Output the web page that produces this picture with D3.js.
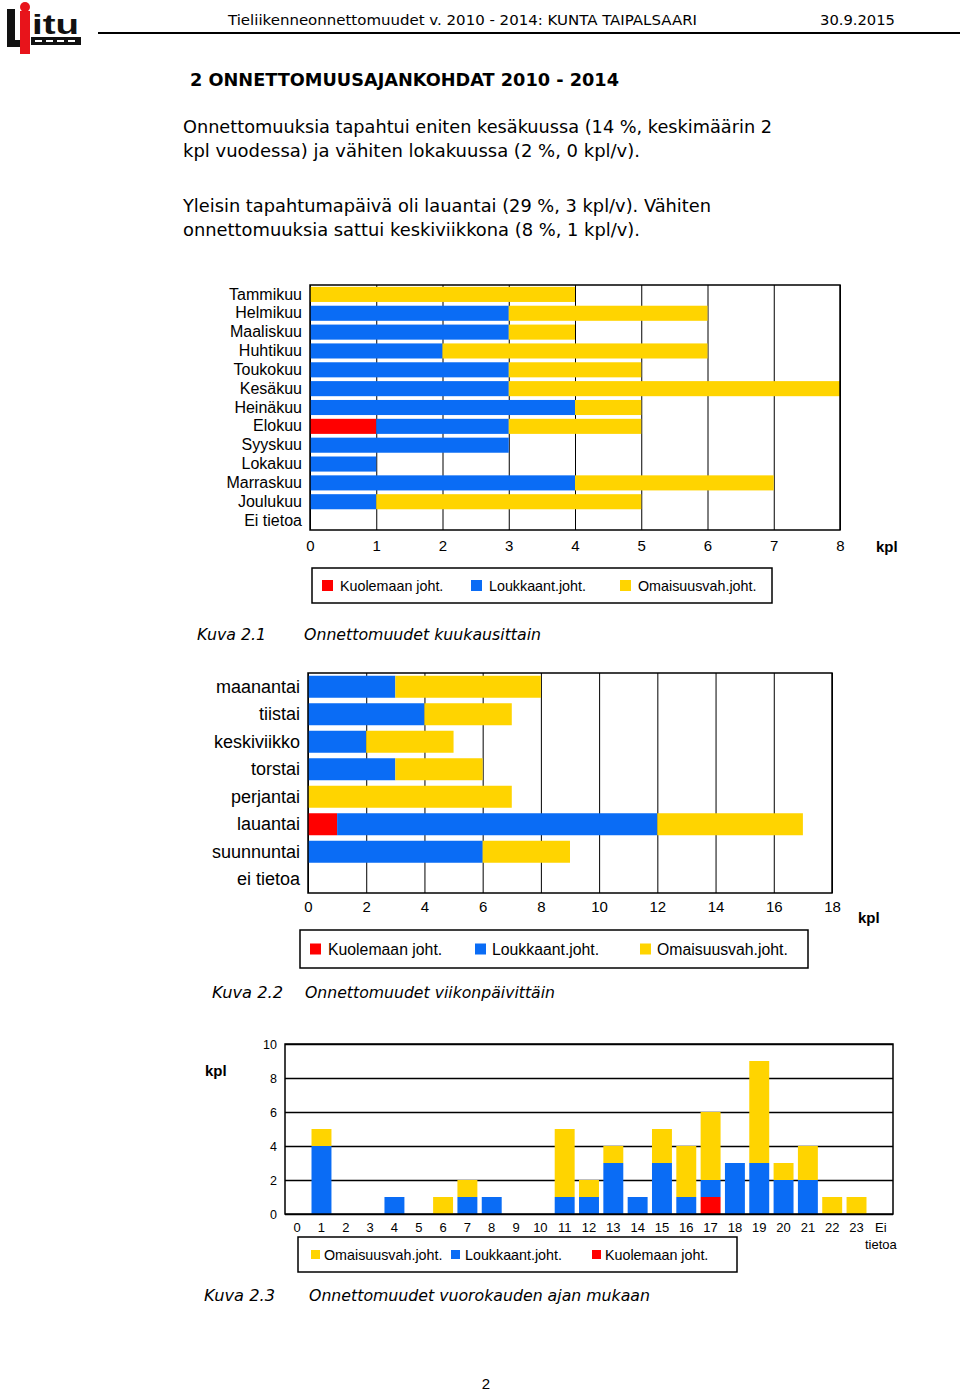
<!DOCTYPE html>
<html><head><meta charset="utf-8">
<script src="https://cdn.jsdelivr.net/npm/d3@7"></script>
<style>
body{margin:0;background:#fff;}
svg{display:block;}
</style></head>
<body>
<script>
// ---------- DATA ----------
const seriesKeys = ["death","injury","property"];
const seriesNames = {death:"Kuolemaan joht.", injury:"Loukkaant.joht.", property:"Omaisuusvah.joht."};
const colors = {death:"#ff0000", injury:"#0a6cf5", property:"#ffd400"};

const months = ["Tammikuu","Helmikuu","Maaliskuu","Huhtikuu","Toukokuu","Kesäkuu","Heinäkuu","Elokuu","Syyskuu","Lokakuu","Marraskuu","Joulukuu","Ei tietoa"];
const monthDeath    = [0,0,0,0,0,0,0,1,0,0,0,0,0];
const monthInjury   = [0,3,3,2,3,3,4,2,3,1,4,1,0];
const monthProperty = [4,3,1,4,2,5,1,2,0,0,3,4,0];
const monthTicks = [0,1,2,3,4,5,6,7,8];

const days = ["maanantai","tiistai","keskiviikko","torstai","perjantai","lauantai","suunnuntai","ei tietoa"];
const dayDeath    = [0,0,0,0,0,1,0,0];
const dayInjury   = [3,4,2,3,0,11,6,0];
const dayProperty = [5,3,3,3,7,5,3,0];
const dayTicks = [0,2,4,6,8,10,12,14,16,18];

const hours = ["0","1","2","3","4","5","6","7","8","9","10","11","12","13","14","15","16","17","18","19","20","21","22","23","Ei tietoa"];
const hourDeath    = [0,0,0,0,0,0,0,0,0,0,0,0,0,0,0,0,0,1,0,0,0,0,0,0,0];
const hourInjury   = [0,4,0,0,1,0,0,1,1,0,0,1,1,3,1,3,1,1,3,3,2,2,0,0,0];
const hourProperty = [0,1,0,0,0,0,1,1,0,0,0,4,1,1,0,2,3,4,0,6,1,2,1,1,0];
const hourTicks = [0,2,4,6,8,10];

// ---------- SVG ----------
const svg = d3.select("body").append("svg").attr("width",960).attr("height",1391);
const VER = "'DejaVu Sans', Verdana, sans-serif";
const ARI = "'Liberation Sans', Arial, sans-serif";

// Logo
const logo = svg.append("g");
logo.append("rect").attr("x",7).attr("y",9).attr("width",8).attr("height",38).attr("fill","#111");
logo.append("rect").attr("x",7).attr("y",40).attr("width",16).attr("height",7).attr("fill","#111");
logo.append("rect").attr("x",20).attr("y",11).attr("width",10).attr("height",43).attr("fill","#e8141b");
logo.append("circle").attr("cx",25).attr("cy",7).attr("r",5).attr("fill","#e8141b");
logo.append("text").attr("x",32).attr("y",34).attr("font-family",ARI).attr("font-weight","bold")
  .attr("font-size",27).attr("fill","#111").attr("textLength",47).attr("lengthAdjust","spacingAndGlyphs").text("itu");
logo.append("rect").attr("x",31).attr("y",37).attr("width",50).attr("height",8).attr("fill","#111");
[35,46,57,68].forEach(x=>logo.append("rect").attr("x",x).attr("y",40).attr("width",7).attr("height",2).attr("fill","#fff"));

// Header
svg.append("text").attr("x",228).attr("y",25).attr("font-family",VER).attr("font-size",14.5)
  .attr("textLength",469).attr("lengthAdjust","spacingAndGlyphs")
  .text("Tieliikenneonnettomuudet v. 2010 - 2014: KUNTA TAIPALSAARI");
svg.append("text").attr("x",820).attr("y",25).attr("font-family",VER).attr("font-size",14.5)
  .attr("textLength",75).attr("lengthAdjust","spacingAndGlyphs").text("30.9.2015");
svg.append("line").attr("x1",98).attr("x2",960).attr("y1",33).attr("y2",33).attr("stroke","#000").attr("stroke-width",2);

// Title & paragraphs
svg.append("text").attr("x",190).attr("y",86).attr("font-family",VER).attr("font-weight","bold").attr("font-size",18.5)
  .attr("textLength",429).attr("lengthAdjust","spacingAndGlyphs").text("2 ONNETTOMUUSAJANKOHDAT 2010 - 2014");
const para = [
  {t:"Onnettomuuksia tapahtui eniten kesäkuussa (14 %, keskimäärin 2", y:133, w:589},
  {t:"kpl vuodessa) ja vähiten lokakuussa (2 %, 0 kpl/v).", y:157, w:457},
  {t:"Yleisin tapahtumapäivä oli lauantai (29 %, 3 kpl/v). Vähiten", y:212, w:528},
  {t:"onnettomuuksia sattui keskiviikkona (8 %, 1 kpl/v).", y:236, w:457}
];
para.forEach(p=>svg.append("text").attr("x",183).attr("y",p.y).attr("font-family",VER).attr("font-size",17.5)
  .attr("textLength",p.w).attr("lengthAdjust","spacingAndGlyphs").text(p.t));

function caption(x1,x2,y,a,b,w1,w2){
  svg.append("text").attr("x",x1).attr("y",y).attr("font-family",VER).attr("font-style","italic").attr("font-size",16)
    .attr("textLength",w1).attr("lengthAdjust","spacingAndGlyphs").text(a);
  svg.append("text").attr("x",x2).attr("y",y).attr("font-family",VER).attr("font-style","italic").attr("font-size",16)
    .attr("textLength",w2).attr("lengthAdjust","spacingAndGlyphs").text(b);
}

function legend(box, items, size, fs){
  svg.append("rect").attr("x",box.x).attr("y",box.y).attr("width",box.w).attr("height",box.h)
    .attr("fill","#fff").attr("stroke","#000").attr("stroke-width",1.5);
  items.forEach(it=>{
    svg.append("rect").attr("x",it.sx).attr("y",box.y+box.h/2-size/2).attr("width",size).attr("height",size).attr("fill",colors[it.k]);
    svg.append("text").attr("x",it.tx).attr("y",box.y+box.h/2).attr("dy","0.36em").attr("font-family",ARI)
      .attr("font-size",fs).text(seriesNames[it.k]);
  });
}

// Horizontal stacked bar chart
function hbar(o){
  const rows = o.cats.map((c,i)=>({cat:c, death:o.d[i], injury:o.inj[i], property:o.p[i]}));
  const stack = d3.stack().keys(seriesKeys)(rows);
  const x = d3.scaleLinear().domain([0,o.max]).range([o.x0,o.x1]);
  const y = d3.scaleBand().domain(o.cats).range([o.y0,o.y1]).paddingInner(0.2).paddingOuter(0.1);
  const g = svg.append("g");
  g.append("g").attr("transform",`translate(0,${o.y1})`)
    .call(d3.axisBottom(x).tickValues(o.ticks).tickSize(-(o.y1-o.y0)).tickFormat(""))
    .call(s=>{s.select(".domain").remove(); s.selectAll("line").attr("stroke","#000").attr("stroke-width",1);});
  g.selectAll("g.layer").data(stack).join("g").attr("fill",d=>colors[d.key])
    .selectAll("rect").data(d=>d.map(v=>({v,cat:v.data.cat}))).join("rect")
    .attr("x",d=>x(d.v[0])).attr("width",d=>x(d.v[1])-x(d.v[0]))
    .attr("y",d=>y(d.cat)).attr("height",y.bandwidth());
  g.append("rect").attr("x",o.x0).attr("y",o.y0).attr("width",o.x1-o.x0).attr("height",o.y1-o.y0)
    .attr("fill","none").attr("stroke","#000").attr("stroke-width",1.5);
  g.append("g").attr("transform",`translate(${o.x0},0)`)
    .call(d3.axisLeft(y).tickSize(0).tickPadding(o.x0-o.labelX))
    .call(s=>{s.select(".domain").remove(); s.selectAll("text").attr("font-family",ARI).attr("font-size",o.lfs).attr("fill","#000");});
  g.append("g").attr("transform",`translate(0,${o.y1})`)
    .call(d3.axisBottom(x).tickValues(o.ticks).tickSize(0).tickPadding(o.tickPad))
    .call(s=>{s.select(".domain").remove(); s.selectAll("text").attr("font-family",ARI).attr("font-size",o.tfs).attr("fill","#000");});
  svg.append("text").attr("x",o.kplX).attr("y",o.kplY).attr("font-family",ARI).attr("font-weight","bold")
    .attr("font-size",15).attr("dy","0.36em").text("kpl");
}

hbar({cats:months,d:monthDeath,inj:monthInjury,p:monthProperty,max:8,ticks:monthTicks,
  x0:310,x1:840,y0:285,y1:530,labelX:302,lfs:16,tfs:15,tickPad:10,kplX:876,kplY:547});
legend({x:312,y:568,w:460,h:35},[{k:"death",sx:322,tx:340},{k:"injury",sx:471,tx:489},{k:"property",sx:620,tx:638}],11,14.3);
caption(197,304,640,"Kuva 2.1","Onnettomuudet kuukausittain",69,237);

hbar({cats:days,d:dayDeath,inj:dayInjury,p:dayProperty,max:18,ticks:dayTicks,
  x0:308,x1:832,y0:673,y1:893,labelX:300,lfs:18,tfs:15,tickPad:8,kplX:858,kplY:918});
legend({x:300,y:930,w:508,h:38},[{k:"death",sx:310,tx:328},{k:"injury",sx:475,tx:492},{k:"property",sx:640,tx:657}],11,15.8);
caption(212,305,998,"Kuva 2.2","Onnettomuudet viikonpäivittäin",71,250);

// Vertical stacked chart (hours)
(function(){
  const x0=285,x1=893,y0=1044,y1=1214;
  const rows = hours.map((h,i)=>({cat:h, death:hourDeath[i], injury:hourInjury[i], property:hourProperty[i]}));
  const stack = d3.stack().keys(seriesKeys)(rows);
  const x = d3.scaleBand().domain(hours).range([x0,x1]).paddingInner(0.18).paddingOuter(0.09);
  const y = d3.scaleLinear().domain([0,10]).range([y1,y0]);
  const g = svg.append("g");
  g.append("g").attr("transform",`translate(${x0},0)`)
    .call(d3.axisLeft(y).tickValues(hourTicks).tickSize(-(x1-x0)).tickFormat(""))
    .call(s=>{s.select(".domain").remove(); s.selectAll("line").attr("stroke","#000").attr("stroke-width",1.3);});
  g.selectAll("g.layer").data(stack).join("g").attr("fill",d=>colors[d.key])
    .selectAll("rect").data(d=>d.map(v=>({v,cat:v.data.cat}))).join("rect")
    .attr("x",d=>x(d.cat)).attr("width",x.bandwidth())
    .attr("y",d=>y(d.v[1])).attr("height",d=>y(d.v[0])-y(d.v[1]));
  g.append("rect").attr("x",x0).attr("y",y0).attr("width",x1-x0).attr("height",y1-y0)
    .attr("fill","none").attr("stroke","#000").attr("stroke-width",1.5);
  g.append("g").attr("transform",`translate(${x0},0)`)
    .call(d3.axisLeft(y).tickValues(hourTicks).tickSize(0).tickPadding(8))
    .call(s=>{s.select(".domain").remove(); s.selectAll("text").attr("font-family",ARI).attr("font-size",12.5).attr("fill","#000");});
  const xa = g.append("g").attr("transform",`translate(0,${y1})`)
    .call(d3.axisBottom(x).tickSize(0).tickPadding(9))
    .call(s=>{s.select(".domain").remove(); s.selectAll("text").attr("font-family",ARI).attr("font-size",13).attr("fill","#000");});
  xa.selectAll("text").filter(d=>d==="Ei tietoa").text(null).each(function(){
    const t = d3.select(this);
    t.append("tspan").attr("x",0).text("Ei");
    t.append("tspan").attr("x",0).attr("dy","1.3em").text("tietoa");
  });
  svg.append("text").attr("x",205).attr("y",1071).attr("font-family",ARI).attr("font-weight","bold")
    .attr("font-size",15).attr("dy","0.36em").text("kpl");
})();
legend({x:298,y:1237,w:439,h:35},[{k:"property",sx:311,tx:324},{k:"injury",sx:451,tx:465},{k:"death",sx:592,tx:605}],9,14.3);
caption(204,309,1301,"Kuva 2.3","Onnettomuudet vuorokauden ajan mukaan",71,341);

svg.append("text").attr("x",486).attr("y",1389).attr("text-anchor","middle").attr("font-family",ARI).attr("font-size",15).text("2");
</script>
</body></html>
